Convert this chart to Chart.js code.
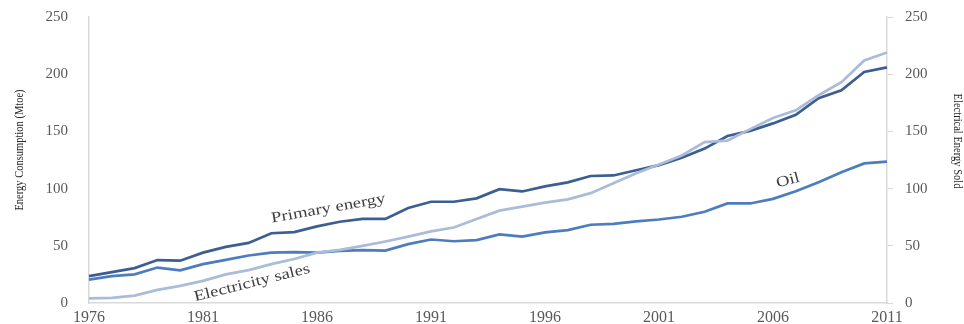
<!DOCTYPE html>
<html>
<head>
<meta charset="utf-8">
<script src="https://cdn.jsdelivr.net/npm/chart.js@4/dist/chart.umd.min.js"></script>
<style>
  html, body { margin: 0; padding: 0; background: #ffffff; overflow: hidden; }
  #wrap { position: relative; width: 964px; height: 324px; overflow: hidden; }
  #c { display: block; position: absolute; left: 0; top: -13px; }
</style>
</head>
<body>
<div id="wrap"><canvas id="c" width="964" height="346"></canvas></div>
<script>
// Years 1976–2011
const years = [1976,1977,1978,1979,1980,1981,1982,1983,1984,1985,1986,1987,1988,1989,1990,1991,1992,1993,
  1994,1995,1996,1997,1998,1999,2000,2001,2002,2003,2004,2005,2006,2007,2008,2009,2010,2011];

// Primary energy consumption (Mtoe)
const primaryEnergy = [23.5,27,30.5,37.5,37,44,49,52.5,61,62,67,71,73.5,73.5,83,88.5,88.5,91.5,
  99.5,97.5,102,105.5,111,111.5,116,120.5,127,135,146,150.5,157,164.5,179,186,202,206];

// Oil consumption (Mtoe)
const oil = [20.5,23.5,25,31,28.5,34,37.7,41.5,44,44.5,44,45.6,46.2,45.8,51.5,55.5,54,55,
  60,58,61.7,63.7,68.4,69.2,71.3,73,75.4,79.8,87,87,91,97.7,105.6,114.3,122,123.5];

// Electrical energy sold (right axis)
const electricitySales = [4,4.5,6.5,11.5,15,19.3,25,28.7,34,38.5,44,46.5,50,53.8,58,62.6,66,73.4,
  80.7,84.2,87.7,90.6,96,104.7,113.5,121,129,140.6,142,152,161.7,168.4,181.6,193,212,219];

// Year labels shown on the horizontal axis
const yearTicks = [1976,1981,1986,1991,1996,2001,2006,2011];

// Series names written beside their lines: [text, year position, value, angle]
const seriesLabels = [
  ['Primary energy', 1986.5, 82.5, -10],
  ['Electricity sales', 1983.15, 17.5, -14],
  ['Oil', 2006.66, 107, -15]
];

const SERIF = '"Liberation Serif", "DejaVu Serif", serif';
const AXIS_GREY = '#d9d9d9';
const TICK_TEXT = '#595959';

// Writes the series names and the two axis titles
const textPlugin = {
  id: 'textPlugin',
  afterDatasetsDraw(chart) {
    const { ctx, scales, chartArea } = chart;
    const x = scales.x, y = scales.y;
    ctx.save();
    ctx.fillStyle = '#404040';
    ctx.font = '15px ' + SERIF;
    ctx.textAlign = 'center';
    ctx.textBaseline = 'middle';
    seriesLabels.forEach(([txt, yr, val, ang]) => {
      const px = x.getPixelForValue(yr - years[0]);
      const py = y.getPixelForValue(val);
      ctx.save();
      ctx.translate(px, py);
      ctx.rotate(ang * Math.PI / 180);
      ctx.scale(1.25, 1);
      ctx.fillText(txt, 0, 0);
      ctx.restore();
    });
    // Axis titles, placed relative to the plot area
    ctx.fillStyle = '#262626';
    ctx.font = '10.5px ' + SERIF;
    ctx.save();
    ctx.translate(20, chartArea.top + 133);
    ctx.rotate(-Math.PI / 2);
    ctx.scale(1, 1.2);
    ctx.fillText('Energy Consumption (Mtoe)', 0, 0);
    ctx.restore();
    ctx.save();
    ctx.translate(957, chartArea.top + 124);
    ctx.rotate(Math.PI / 2);
    ctx.scale(1, 1.2);
    ctx.fillText('Electrical Energy Sold', 0, 0);
    ctx.restore();
    ctx.restore();
  }
};

const lineStyle = (color) => ({
  borderColor: color,
  backgroundColor: color,
  borderWidth: 2.7,
  pointRadius: 0,
  tension: 0,
  fill: false
});

new Chart(document.getElementById('c'), {
  type: 'line',
  data: {
    labels: years.map(String),
    datasets: [
      Object.assign({ label: 'Electricity sales', data: electricitySales, yAxisID: 'y1' }, lineStyle('#aabcd8')),
      Object.assign({ label: 'Oil', data: oil, yAxisID: 'y' }, lineStyle('#4d7dbf')),
      Object.assign({ label: 'Primary energy', data: primaryEnergy, yAxisID: 'y' }, lineStyle('#3d5e90'))
    ]
  },
  options: {
    responsive: false,
    animation: false,
    layout: { padding: { top: 8, left: 0, right: 0, bottom: 0 } },
    plugins: { legend: { display: false }, tooltip: { enabled: false } },
    scales: {
      x: {
        type: 'category',
        offset: false,
        grid: { display: false, drawTicks: false },
        border: { display: true, color: AXIS_GREY, width: 1.5 },
        ticks: {
          autoSkip: false,
          maxRotation: 0,
          padding: 5,
          color: TICK_TEXT,
          font: { family: SERIF, size: 16 },
          callback: function (v, i) {
            const yr = years[i];
            return yearTicks.includes(yr) ? String(yr) : '';
          }
        }
      },
      y: {
        position: 'left',
        min: 0, max: 250,
        ticks: { stepSize: 50, padding: 21, color: TICK_TEXT, font: { family: SERIF, size: 15 } },
        grid: { display: false, drawTicks: false },
        border: { display: true, color: AXIS_GREY, width: 1.5 },
        afterFit: (s) => { s.width = 89; }
      },
      y1: {
        position: 'right',
        min: 0, max: 250,
        ticks: { stepSize: 50, padding: 12, color: TICK_TEXT, font: { family: SERIF, size: 15 } },
        grid: { drawOnChartArea: false, drawTicks: true, tickLength: 6, color: AXIS_GREY },
        border: { display: true, color: AXIS_GREY, width: 1.5 },
        afterFit: (s) => { s.width = 77; }
      }
    }
  },
  plugins: [textPlugin]
});
</script>
</body>
</html>
